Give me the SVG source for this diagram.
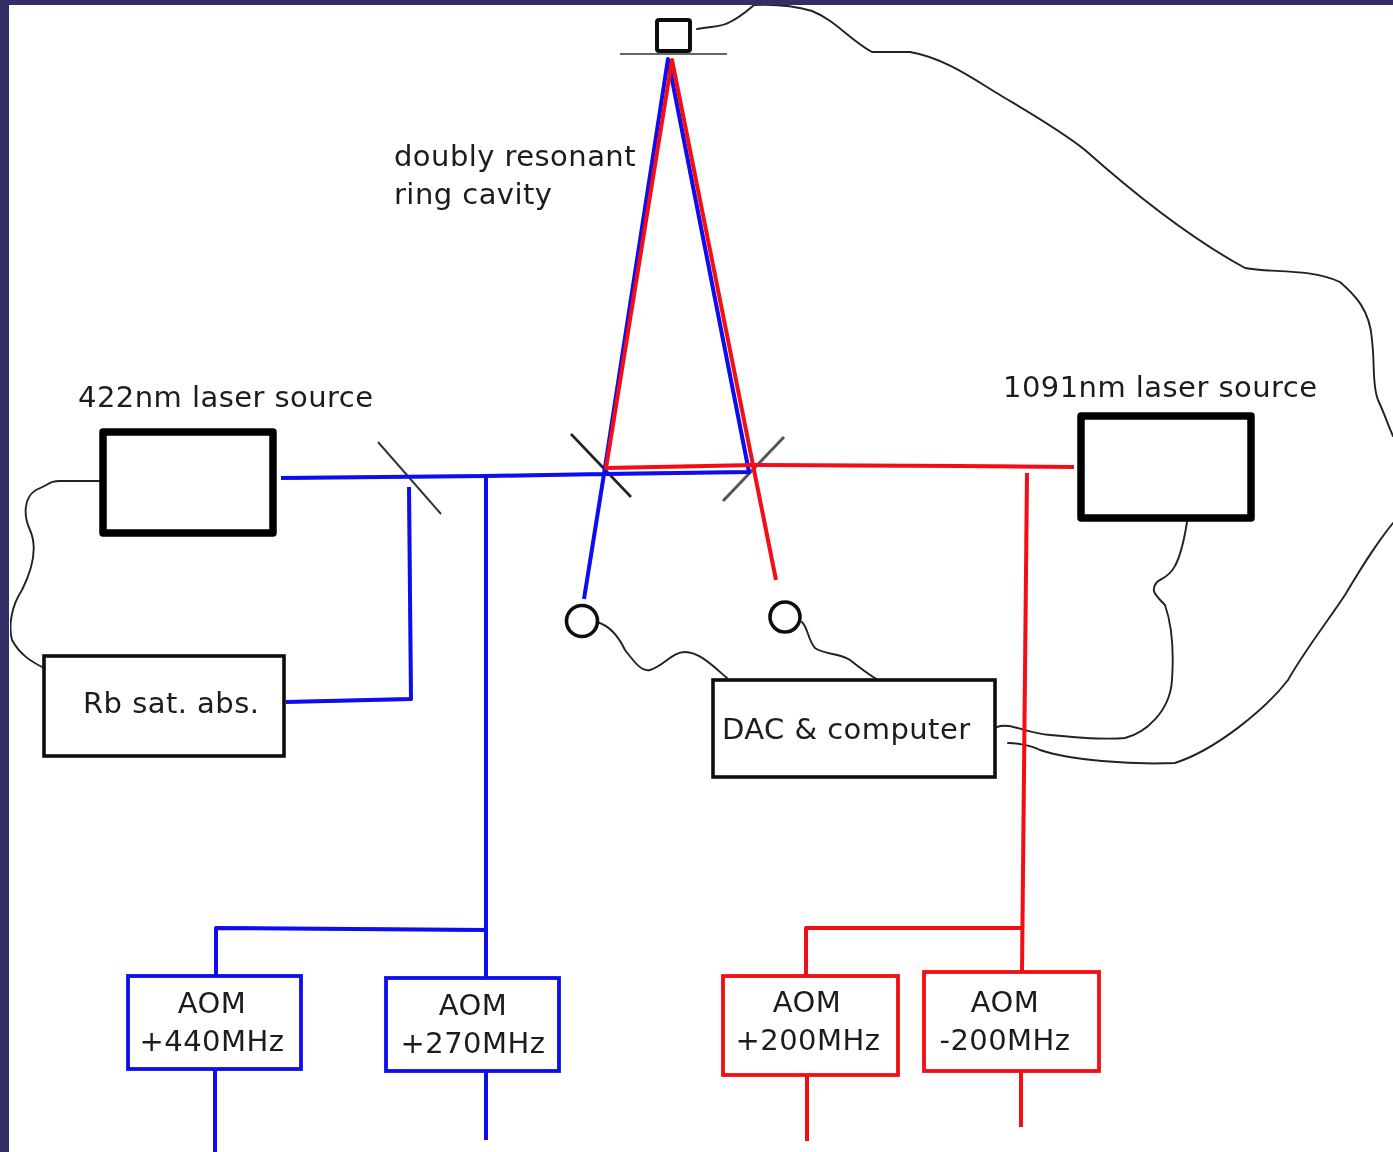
<svg xmlns="http://www.w3.org/2000/svg" width="1393" height="1152" viewBox="0 0 1393 1152">
<style>
text{font-family:"DejaVu Sans",sans-serif;font-size:29px;fill:#1c1c1c;letter-spacing:.45px}
.c{text-anchor:middle}
.w{fill:none;stroke:#222;stroke-width:1.9;stroke-linejoin:round;stroke-linecap:round}
.b{fill:none;stroke:#0808f0;stroke-width:4;stroke-linejoin:round}
.r{fill:none;stroke:#f50a14;stroke-width:4;stroke-linejoin:round}
.k{fill:#fff;stroke:#111;stroke-width:3.6}
.k2{fill:#fff;stroke:#000;stroke-width:7.500;stroke-linejoin:round}
.ab{fill:#fff;stroke:#0808f0;stroke-width:3.8}
.ar{fill:#fff;stroke:#f50a14;stroke-width:3.8}
.m{fill:none;stroke:#333;stroke-width:2.6}
</style>
<defs><filter id="soft" x="0" y="0" width="100%" height="100%"><feGaussianBlur stdDeviation="0.45"/></filter></defs>
<rect width="1393" height="1152" fill="#fff"/>
<g filter="url(#soft)">
<g id="wires">
<path class="w" d="M697 29C715 26 722 27 730 22C742 16 748 10 754 5C775 4 795 6 812 11C835 20 850 40 872 52L910 52C945 58 975 80 1000 95C1030 113 1060 130 1085 150C1130 190 1190 238 1245 268C1270 273 1310 268 1340 282C1355 295 1370 310 1372 340C1375 365 1372 385 1378 400C1385 415 1388 425 1393 436"/>
<path class="w" d="M1393 523C1375 545 1360 570 1345 595C1325 625 1305 650 1288 680C1265 710 1215 750 1175 763C1130 765 1070 760 1040 750C1030 745 1015 743 1008 743"/>
<path class="w" d="M997 727C1010 722 1025 733 1050 735C1080 738 1105 740 1125 738C1145 733 1170 712 1172 680C1174 650 1172 625 1165 605C1155 595 1150 590 1157 582C1165 575 1178 580 1187 522"/>
<path class="w" d="M100 481L60 481C50 481 50 484 36 490C24 497 23 515 30 530C38 548 32 570 22 590C12 605 8 625 12 640C20 655 32 662 44 668"/>
<path class="w" d="M597 622C610 626 618 635 625 650C635 663 642 672 650 670C665 665 672 652 685 652C700 652 715 668 727 678"/>
<path class="w" d="M802 622C808 628 808 640 815 648C825 655 840 653 850 660C860 668 868 674 878 680"/>
</g>
<g id="connectors">
<path class="m" d="M620 54H727" style="stroke:#666;stroke-width:2.200"/>
<path class="m" d="M378 442L441 514" style="stroke-width:2"/>
<path class="m" d="M571 434L631 497" style="stroke:#222"/>
<path class="m" d="M723 501L784 437" style="stroke:#555;stroke-width:3"/>
<path class="b" d="M281 478L486 476L604 474L749 472L668 59L604 474L584 599"/>
<path class="b" d="M409 487L411 699L286 702"/>
<path class="b" d="M486 476V1140"/>
<path class="b" d="M486 930L216 928V976"/>
<path class="b" d="M215 1069V1152"/>
<path class="r" d="M1074 467L960 466L755 465L606 468L672 60L776 580"/>
<path class="r" d="M1027 473L1022 972"/>
<path class="r" d="M1022 928H806V976"/>
<path class="r" d="M807 1075V1141"/>
<path class="r" d="M1021 1072V1127"/>
</g>
<g id="mirror-top"><rect x="657" y="20" width="33" height="31" rx="2" fill="#fff" stroke="#111" stroke-width="4"/></g>
<g id="det1"><circle cx="582" cy="621" r="15.500" fill="#fff" stroke="#111" stroke-width="3.600"/></g>
<g id="det2"><circle cx="785" cy="617" r="15" fill="#fff" stroke="#111" stroke-width="3.600"/></g>
<g id="laser422"><rect class="k2" x="103" y="432" width="170" height="101"/><text x="78" y="406.500">422nm laser source</text></g>
<g id="laser1091"><rect class="k2" x="1081" y="416" width="170" height="102"/><text x="1003" y="396.500">1091nm laser source</text></g>
<g id="rb"><rect class="k" x="44" y="656" width="240" height="100"/><text x="83" y="713">Rb sat. abs.</text></g>
<g id="dac"><rect class="k" x="713" y="680" width="282" height="97"/><text x="722" y="739">DAC &amp; computer</text></g>
<g id="cavity-label"><text x="394" y="166">doubly resonant</text><text x="394" y="203.500">ring cavity</text></g>
<g id="aom1"><rect class="ab" x="128" y="976" width="173" height="93"/><text class="c" x="212" y="1013">AOM</text><text class="c" x="212" y="1051">+440MHz</text></g>
<g id="aom2"><rect class="ab" x="386" y="978" width="173" height="93"/><text class="c" x="473" y="1015">AOM</text><text class="c" x="473" y="1053">+270MHz</text></g>
<g id="aom3"><rect class="ar" x="723" y="976" width="175" height="99"/><text class="c" x="807" y="1011.500">AOM</text><text class="c" x="808" y="1049.500">+200MHz</text></g>
<g id="aom4"><rect class="ar" x="924" y="972" width="175" height="99"/><text class="c" x="1005" y="1011.500">AOM</text><text class="c" x="1005" y="1049.500">-200MHz</text></g>
</g>
<rect width="1393" height="5" fill="#312f66"/>
<rect width="9" height="1152" fill="#312f66"/>
</svg>
